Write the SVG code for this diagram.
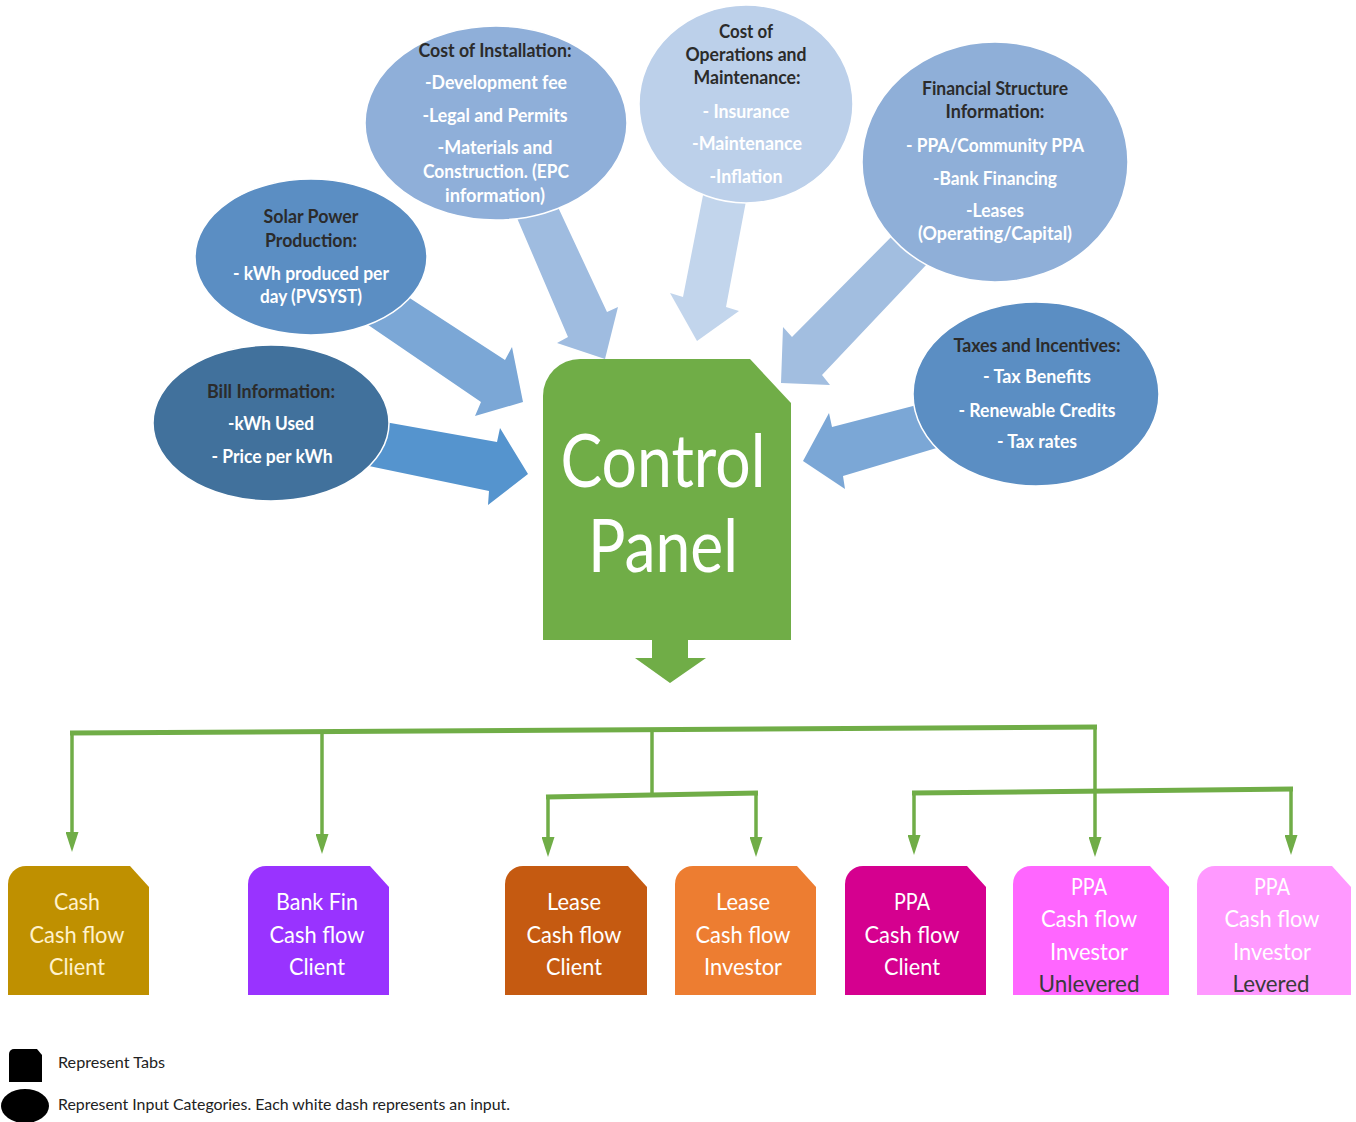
<svg xmlns="http://www.w3.org/2000/svg" width="1356" height="1122" viewBox="0 0 1356 1122">
<defs>
<style>
text{font-family:Lato,"Open Sans","Liberation Sans",sans-serif;text-anchor:middle}
.et{font-size:19px;font-weight:bold;fill:#2b2b2b}
.ei{font-size:19px;font-weight:bold;fill:#ffffff}
.tb{font-size:24px;fill:#ffffff}
.dk{fill:#3a3a3a}
.ell{stroke:#ffffff;stroke-width:1.5}
.g{stroke:#70AD47;fill:none}
.bar{stroke-width:5}
.v{stroke-width:3.5}
.lg{font-size:15px;fill:#222222;text-anchor:start}
</style>
<marker id="ah" viewBox="0 0 20 13" markerWidth="20" markerHeight="13" refX="14" refY="6.5" orient="auto" markerUnits="userSpaceOnUse">
<path d="M0,0 L20,6.5 L0,13 Z" fill="#70AD47"/>
</marker>
</defs>
<rect width="1356" height="1122" fill="#ffffff"/>

<g id="connectors">
<polygon points="340,414 497,442 500,428 528,474 488,505 489,491 340,460" fill="#5594CE"/>
<polygon points="385,282 505,360 512,347 523,402 475,416 481,402 355,316" fill="#7BA7D6"/>
<polygon points="505,190 568,337 557,343 605,359 618,307 607,312 550,190" fill="#9FBCE0"/>
<polygon points="706,180 683,297 670,293 697,341 739,311 726,307 750,180" fill="#C2D5EC"/>
<polygon points="910,218 792,337 783,327 781,383 830,385 822,375 945,245" fill="#A2BEE0"/>
<polygon points="940,399 832,427 829,413 803,461 845,489 843,476 960,441" fill="#7BA7D6"/>
<polygon points="652,640 688,640 688,658 706,658 670,683 635,658 652,658" fill="#70AD47"/>
<line class="g bar" x1="70" y1="733" x2="1097" y2="727"/>
<line class="g v" x1="72" y1="733" x2="72" y2="846" marker-end="url(#ah)"/>
<line class="g v" x1="322" y1="732" x2="322" y2="848" marker-end="url(#ah)"/>
<line class="g v" x1="652" y1="730" x2="652" y2="796"/>
<line class="g bar" x1="546" y1="797" x2="758" y2="793"/>
<line class="g v" x1="548" y1="797" x2="548" y2="851" marker-end="url(#ah)"/>
<line class="g v" x1="756" y1="793" x2="756" y2="851" marker-end="url(#ah)"/>
<line class="g v" x1="1095" y1="727" x2="1095" y2="851" marker-end="url(#ah)"/>
<line class="g bar" x1="912" y1="793" x2="1293" y2="789"/>
<line class="g v" x1="914" y1="793" x2="914" y2="849" marker-end="url(#ah)"/>
<line class="g v" x1="1291" y1="789" x2="1291" y2="849" marker-end="url(#ah)"/>
</g>

<g id="cost-installation">
<ellipse class="ell" cx="496" cy="123" rx="131" ry="97" fill="#8FAFD9"/>
<text class="et" x="495" y="57" textLength="153" lengthAdjust="spacingAndGlyphs">Cost of Installation:</text>
<text class="ei" x="496" y="89" textLength="142" lengthAdjust="spacingAndGlyphs">-Development fee</text>
<text class="ei" x="495" y="122" textLength="145" lengthAdjust="spacingAndGlyphs">-Legal and Permits</text>
<text class="ei" x="495" y="154" textLength="115" lengthAdjust="spacingAndGlyphs">-Materials and</text>
<text class="ei" x="496" y="178" textLength="146" lengthAdjust="spacingAndGlyphs">Construction. (EPC</text>
<text class="ei" x="495" y="202" textLength="100" lengthAdjust="spacingAndGlyphs">information)</text>
</g>

<g id="solar-power">
<ellipse class="ell" cx="311" cy="257" rx="116" ry="78" fill="#5B8EC3"/>
<text class="et" x="311" y="223" textLength="95" lengthAdjust="spacingAndGlyphs">Solar Power</text>
<text class="et" x="311" y="247" textLength="92" lengthAdjust="spacingAndGlyphs">Production:</text>
<text class="ei" x="311" y="280" textLength="156" lengthAdjust="spacingAndGlyphs">- kWh produced per</text>
<text class="ei" x="311" y="303" textLength="102" lengthAdjust="spacingAndGlyphs">day (PVSYST)</text>
</g>

<g id="bill-information">
<ellipse class="ell" cx="271" cy="423" rx="118" ry="78" fill="#41719C"/>
<text class="et" x="271" y="398" textLength="128" lengthAdjust="spacingAndGlyphs">Bill Information:</text>
<text class="ei" x="271" y="430" textLength="86" lengthAdjust="spacingAndGlyphs">-kWh Used</text>
<text class="ei" x="272" y="463" textLength="121" lengthAdjust="spacingAndGlyphs">- Price per kWh</text>
</g>

<g id="cost-om">
<ellipse class="ell" cx="746" cy="104" rx="107" ry="99" fill="#BCD0EA"/>
<text class="et" x="746" y="38" textLength="54" lengthAdjust="spacingAndGlyphs">Cost of</text>
<text class="et" x="746" y="61" textLength="121" lengthAdjust="spacingAndGlyphs">Operations and</text>
<text class="et" x="747" y="84" textLength="107" lengthAdjust="spacingAndGlyphs">Maintenance:</text>
<text class="ei" x="746" y="118" textLength="87" lengthAdjust="spacingAndGlyphs">- Insurance</text>
<text class="ei" x="747" y="150" textLength="110" lengthAdjust="spacingAndGlyphs">-Maintenance</text>
<text class="ei" x="746" y="183" textLength="73" lengthAdjust="spacingAndGlyphs">-Inflation</text>
</g>

<g id="financial-structure">
<ellipse class="ell" cx="995" cy="162" rx="133" ry="120" fill="#8FAFD8"/>
<text class="et" x="995" y="95" textLength="146" lengthAdjust="spacingAndGlyphs">Financial Structure</text>
<text class="et" x="995" y="118" textLength="99" lengthAdjust="spacingAndGlyphs">Information:</text>
<text class="ei" x="995" y="152" textLength="178" lengthAdjust="spacingAndGlyphs">- PPA/Community PPA</text>
<text class="ei" x="995" y="185" textLength="124" lengthAdjust="spacingAndGlyphs">-Bank Financing</text>
<text class="ei" x="995" y="217" textLength="58" lengthAdjust="spacingAndGlyphs">-Leases</text>
<text class="ei" x="995" y="240" textLength="154" lengthAdjust="spacingAndGlyphs">(Operating/Capital)</text>
</g>

<g id="taxes-incentives">
<ellipse class="ell" cx="1036" cy="394" rx="123" ry="92" fill="#5B8EC3"/>
<text class="et" x="1037" y="352" textLength="167" lengthAdjust="spacingAndGlyphs">Taxes and Incentives:</text>
<text class="ei" x="1037" y="383" textLength="108" lengthAdjust="spacingAndGlyphs">- Tax Benefits</text>
<text class="ei" x="1037" y="417" textLength="157" lengthAdjust="spacingAndGlyphs">- Renewable Credits</text>
<text class="ei" x="1037" y="448" textLength="80" lengthAdjust="spacingAndGlyphs">- Tax rates</text>
</g>

<g id="control-panel">
<path d="M543,396 A37,37 0 0 1 580,359 L750,359 L791,403 L791,640 L543,640 Z" fill="#70AD47"/>
<text x="663" y="487" font-size="74" fill="#ffffff" textLength="205" lengthAdjust="spacingAndGlyphs">Control</text>
<text x="663" y="572" font-size="74" fill="#ffffff" textLength="150" lengthAdjust="spacingAndGlyphs">Panel</text>
</g>

<g id="tab-cash">
<path d="M8,884 A18,18 0 0 1 26,866 L130,866 L149,887 L149,995 L8,995 Z" fill="#BF9000"/>
<text class="tb" x="77" y="910" fill="#FFF2CC" style="fill:#FFF2CC" textLength="46" lengthAdjust="spacingAndGlyphs">Cash</text>
<text class="tb" x="77" y="943" style="fill:#FFF2CC" textLength="95" lengthAdjust="spacingAndGlyphs">Cash flow</text>
<text class="tb" x="77" y="975" style="fill:#FFF2CC" textLength="56" lengthAdjust="spacingAndGlyphs">Client</text>
</g>

<g id="tab-bankfin">
<path d="M248,884 A18,18 0 0 1 266,866 L370,866 L389,887 L389,995 L248,995 Z" fill="#9933FF"/>
<text class="tb" x="317" y="910" textLength="82" lengthAdjust="spacingAndGlyphs">Bank Fin</text>
<text class="tb" x="317" y="943" textLength="95" lengthAdjust="spacingAndGlyphs">Cash flow</text>
<text class="tb" x="317" y="975" textLength="56" lengthAdjust="spacingAndGlyphs">Client</text>
</g>

<g id="tab-lease-client">
<path d="M505,884 A18,18 0 0 1 523,866 L628,866 L647,887 L647,995 L505,995 Z" fill="#C55A11"/>
<text class="tb" x="574" y="910" textLength="54" lengthAdjust="spacingAndGlyphs">Lease</text>
<text class="tb" x="574" y="943" textLength="95" lengthAdjust="spacingAndGlyphs">Cash flow</text>
<text class="tb" x="574" y="975" textLength="56" lengthAdjust="spacingAndGlyphs">Client</text>
</g>

<g id="tab-lease-investor">
<path d="M675,884 A18,18 0 0 1 693,866 L797,866 L816,887 L816,995 L675,995 Z" fill="#ED7D31"/>
<text class="tb" x="743" y="910" textLength="54" lengthAdjust="spacingAndGlyphs">Lease</text>
<text class="tb" x="743" y="943" textLength="95" lengthAdjust="spacingAndGlyphs">Cash flow</text>
<text class="tb" x="743" y="975" textLength="78" lengthAdjust="spacingAndGlyphs">Investor</text>
</g>

<g id="tab-ppa-client">
<path d="M845,884 A18,18 0 0 1 863,866 L967,866 L986,887 L986,995 L845,995 Z" fill="#D5008F"/>
<text class="tb" x="912" y="910" textLength="36" lengthAdjust="spacingAndGlyphs">PPA</text>
<text class="tb" x="912" y="943" textLength="95" lengthAdjust="spacingAndGlyphs">Cash flow</text>
<text class="tb" x="912" y="975" textLength="56" lengthAdjust="spacingAndGlyphs">Client</text>
</g>

<g id="tab-ppa-unlevered">
<path d="M1013,884 A18,18 0 0 1 1031,866 L1150,866 L1169,887 L1169,995 L1013,995 Z" fill="#FF66FF"/>
<text class="tb" x="1089" y="895" textLength="36" lengthAdjust="spacingAndGlyphs">PPA</text>
<text class="tb" x="1089" y="927" textLength="96" lengthAdjust="spacingAndGlyphs">Cash flow</text>
<text class="tb" x="1089" y="960" textLength="78" lengthAdjust="spacingAndGlyphs">Investor</text>
<text class="tb dk" x="1089" y="992" textLength="101" lengthAdjust="spacingAndGlyphs">Unlevered</text>
</g>

<g id="tab-ppa-levered">
<path d="M1197,884 A18,18 0 0 1 1215,866 L1332,866 L1351,887 L1351,995 L1197,995 Z" fill="#FF99FF"/>
<text class="tb" x="1272" y="895" textLength="36" lengthAdjust="spacingAndGlyphs">PPA</text>
<text class="tb" x="1272" y="927" textLength="95" lengthAdjust="spacingAndGlyphs">Cash flow</text>
<text class="tb" x="1272" y="960" textLength="78" lengthAdjust="spacingAndGlyphs">Investor</text>
<text class="tb dk" x="1271" y="992" textLength="77" lengthAdjust="spacingAndGlyphs">Levered</text>
</g>

<g id="legend">
<path d="M9,1054 A5,5 0 0 1 14,1049 L37,1049 L42,1055 L42,1082 L9,1082 Z" fill="#000000"/>
<ellipse cx="25" cy="1106" rx="24" ry="17" fill="#000000"/>
<text class="lg" x="58" y="1068" textLength="107" lengthAdjust="spacingAndGlyphs">Represent Tabs</text>
<text class="lg" x="58" y="1110" textLength="452" lengthAdjust="spacingAndGlyphs">Represent Input Categories. Each white dash represents an input.</text>
</g>
</svg>
